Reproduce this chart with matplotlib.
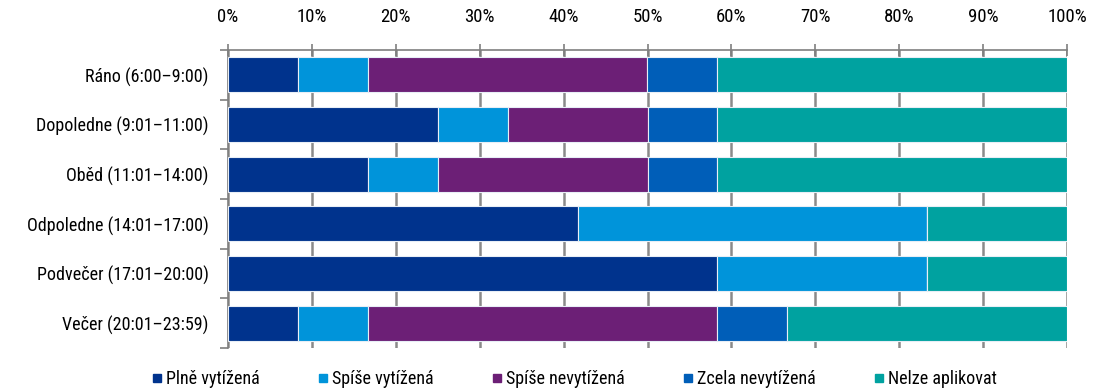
import matplotlib
matplotlib.use("Agg")
import matplotlib.pyplot as plt
import numpy as np
from matplotlib.lines import Line2D

plt.rcParams['font.family'] = ['Roboto Condensed', 'Liberation Sans', 'DejaVu Sans']

categories = [
    "Ráno (6:00–9:00)",
    "Dopoledne (9:01–11:00)",
    "Oběd (11:01–14:00)",
    "Odpoledne (14:01–17:00)",
    "Podvečer (17:01–20:00)",
    "Večer (20:01–23:59)",
]
series_names = ["Plně vytížená", "Spíše vytížená", "Spíše nevytížená",
                "Zcela nevytížená", "Nelze aplikovat"]
plne = [8.33, 25.0, 16.67, 41.67, 58.33, 8.33]
spise_vyt = [8.33, 8.33, 8.33, 41.67, 25.0, 8.33]
spise_nevyt = [33.33, 16.67, 25.0, 0.0, 0.0, 41.67]
zcela = [8.33, 8.33, 8.33, 0.0, 0.0, 8.33]
nelze = [41.67, 41.67, 41.67, 16.67, 16.67, 33.33]
colors = ["#00338D", "#0094DA", "#6C1F76", "#005EB8", "#00A2A0"]
xticks = [0, 10, 20, 30, 40, 50, 60, 70, 80, 90, 100]

series = [plne, spise_vyt, spise_nevyt, zcela, nelze]

fig = plt.figure(figsize=(10.97, 3.92), dpi=100)
ax = fig.add_axes([228/1097, 1 - 348/392, (1067 - 228)/1097, 298/392])

y = np.arange(len(categories))
left = np.zeros(len(categories))
for vals, col, name in zip(series, colors, series_names):
    ax.barh(y, vals, left=left, height=0.7, color=col, edgecolor="#E8EEF6",
            linewidth=0.8, label=name, zorder=3)
    left += np.array(vals)

ax.set_xlim(0, 100)
ax.set_ylim(len(categories) - 0.5, -0.5)
ax.set_xticks(xticks)
ax.set_xticklabels([f"{v}%" for v in xticks])
ax.xaxis.tick_top()
ax.tick_params(axis='x', direction='inout', length=8, width=1.2, color='#7f7f7f',
               labelsize=13.5, pad=13)
ax.grid(axis='x', color='#8a8a8a', linewidth=1.8, zorder=0)
ax.set_axisbelow(True)

ax.set_yticks(np.arange(-0.5, len(categories) - 0.4, 1.0))
ax.set_yticklabels([])
ax.set_yticks(y, minor=True)
ax.set_yticklabels(categories, minor=True)
ax.tick_params(axis='y', which='major', direction='out', length=6, width=1.2, color='#7f7f7f')
ax.tick_params(axis='y', which='minor', length=0, labelsize=13, pad=14)

for s in ['bottom', 'right']:
    ax.spines[s].set_visible(False)
for s in ['top', 'left']:
    ax.spines[s].set_color('#7f7f7f')
    ax.spines[s].set_linewidth(1.2)

handles = [Line2D([0], [0], marker='s', linestyle='none', markersize=6,
                  markerfacecolor=c, markeredgecolor=c) for c in colors]
fig.legend(handles, series_names, loc='center', bbox_to_anchor=(0.522, 1 - 379/392),
           ncol=5, frameon=False, fontsize=13, handletextpad=0.0,
           columnspacing=3.0, handlelength=1.0)

fig.savefig("out.png", dpi=100)
